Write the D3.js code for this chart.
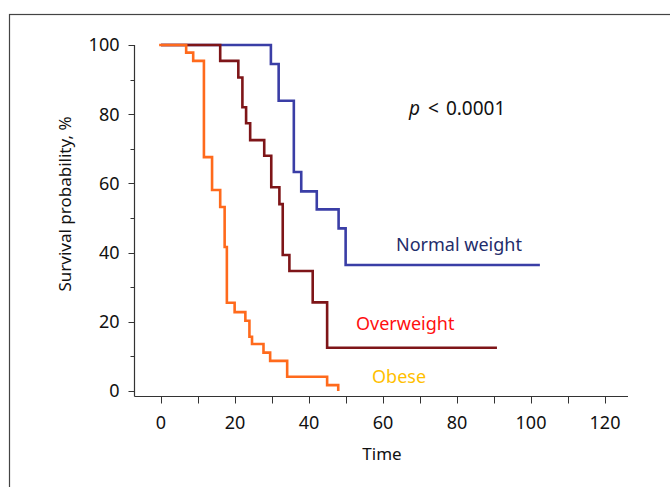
<!DOCTYPE html>
<html>
<head>
<meta charset="utf-8">
<script src="https://cdn.jsdelivr.net/npm/d3@7"></script>
<style>
  body { margin: 0; background: #fff; }
  text { font-family: "Noto Sans", sans-serif; }
</style>
</head>
<body>
<div id="chart"></div>
<script>
// data
var normalTime = [0, 29.7, 31.8, 35.9, 37.9, 42.1, 48.0, 49.9, 102.4];
var normalSurv = [100, 94.5, 83.9, 63.3, 57.7, 52.5, 47.0, 36.4, 36.4];

var overTime = [0, 16.0, 20.9, 22.0, 23.0, 24.1, 27.9, 29.8, 32.0, 32.9, 34.7, 41.0, 44.9, 90.8];
var overSurv = [100, 95.4, 90.6, 82.0, 77.4, 72.5, 68.0, 58.9, 54.0, 39.3, 34.7, 25.6, 12.5, 12.5];

var obeseTime = [-0.5, 6.8, 8.7, 11.6, 13.8, 16.0, 17.2, 17.8, 19.9, 22.8, 23.9, 24.6, 27.7, 29.5, 34.1, 44.9, 47.9];
var obeseSurv = [100, 97.8, 95.4, 67.6, 58.1, 53.2, 41.6, 25.5, 22.8, 20.3, 15.7, 13.6, 11.1, 8.7, 4.1, 1.7, 0];

var xTicks = [0, 20, 40, 60, 80, 100, 120];
var yTicks = [0, 20, 40, 60, 80, 100];

var svgWidth = 670, svgHeight = 487;

var svg = d3.select("#chart")
    .append("svg")
    .attr("width", svgWidth)
    .attr("height", svgHeight);

// outer frame
svg.append("rect")
    .attr("x", 9.5)
    .attr("y", 14.5)
    .attr("width", 700)
    .attr("height", 500)
    .attr("fill", "none")
    .attr("stroke", "#444")
    .attr("stroke-width", 1.2);

var xScale = d3.scaleLinear().domain([0, 120]).range([161, 605]);
var yScale = d3.scaleLinear().domain([0, 100]).range([391, 45]);

var axisY = 396.5, axisX = 134.5;

// x axis
var xAxis = svg.append("g").attr("transform", `translate(0, ${axisY})`);
xAxis.append("line")
    .attr("x1", axisX).attr("x2", 628)
    .attr("stroke", "#333").attr("stroke-width", 1.2);
xAxis.selectAll(".tk")
    .data(d3.range(0, 121, 10))
    .enter()
    .append("line")
    .attr("x1", d => Math.round(xScale(d)) + 0.5)
    .attr("x2", d => Math.round(xScale(d)) + 0.5)
    .attr("y1", 0).attr("y2", 7)
    .attr("stroke", "#333");
xAxis.selectAll(".lb")
    .data(xTicks)
    .enter()
    .append("text")
    .attr("x", d => xScale(d))
    .attr("y", 32)
    .attr("text-anchor", "middle")
    .attr("font-size", "18px")
    .attr("fill", "#111")
    .text(d => d);

// y axis
var yAxis = svg.append("g");
yAxis.append("line")
    .attr("x1", axisX).attr("x2", axisX)
    .attr("y1", yScale(100)).attr("y2", axisY)
    .attr("stroke", "#333").attr("stroke-width", 1.2);
yAxis.selectAll(".tk")
    .data(d3.range(0, 101, 10))
    .enter()
    .append("line")
    .attr("x1", d => d % 20 === 0 ? axisX - 6 : axisX - 4)
    .attr("x2", axisX)
    .attr("y1", d => Math.round(yScale(d)) + 0.5)
    .attr("y2", d => Math.round(yScale(d)) + 0.5)
    .attr("stroke", "#333");
yAxis.selectAll(".lb")
    .data(yTicks)
    .enter()
    .append("text")
    .attr("x", axisX - 15)
    .attr("y", d => yScale(d))
    .attr("dy", "0.35em")
    .attr("text-anchor", "end")
    .attr("font-size", "18px")
    .attr("fill", "#111")
    .text(d => d);

// axis titles
svg.append("text")
    .attr("x", 382)
    .attr("y", 460)
    .attr("text-anchor", "middle")
    .attr("font-size", "17px")
    .attr("fill", "#111")
    .text("Time");

svg.append("text")
    .attr("transform", "translate(71, 204) rotate(-90)")
    .attr("text-anchor", "middle")
    .attr("font-size", "17px")
    .attr("fill", "#111")
    .text("Survival probability, %");

// curves
var line = d3.line()
    .x(d => xScale(d[0]))
    .y(d => yScale(d[1]))
    .curve(d3.curveStepAfter);

var series = [
    {t: normalTime, s: normalSurv, color: "#3a3ea6"},
    {t: overTime, s: overSurv, color: "#7e1518"},
    {t: obeseTime, s: obeseSurv, color: "#ff6a1c"}
];

series.forEach(function(sr) {
    svg.append("path")
        .datum(sr.t.map((t, i) => [t, sr.s[i]]))
        .attr("d", line)
        .attr("fill", "none")
        .attr("stroke", sr.color)
        .attr("stroke-width", 2.6);
});

// labels
svg.append("text")
    .attr("x", 396).attr("y", 251)
    .attr("font-size", "18px")
    .attr("fill", "#1f2d6b")
    .text("Normal weight");

svg.append("text")
    .attr("x", 356).attr("y", 330)
    .attr("font-size", "18px")
    .attr("fill", "#ff1010")
    .text("Overweight");

svg.append("text")
    .attr("x", 372).attr("y", 383)
    .attr("font-size", "18px")
    .attr("fill", "#ffc000")
    .text("Obese");

var pText = svg.append("text")
    .attr("x", 409).attr("y", 115)
    .attr("font-size", "19px")
    .attr("fill", "#111");
pText.append("tspan").attr("font-style", "italic").text("p");
pText.append("tspan").attr("dx", 8).text("<");
pText.append("tspan").attr("dx", 7).text("0.0001");
</script>
</body>
</html>
